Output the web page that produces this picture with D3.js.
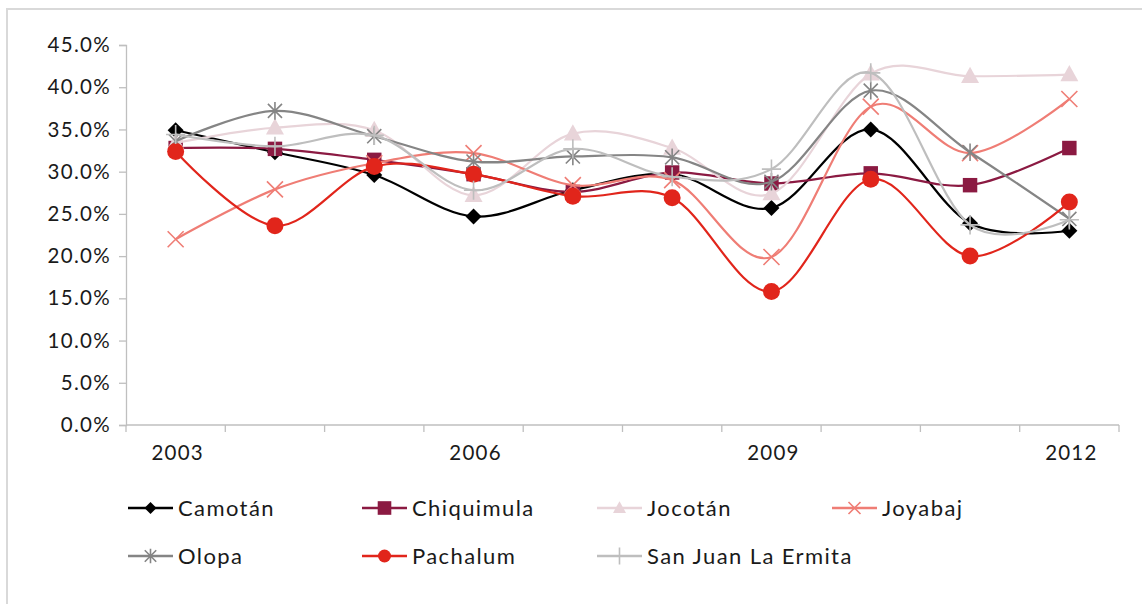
<!DOCTYPE html>
<html><head><meta charset="utf-8">
<script src="https://cdn.jsdelivr.net/npm/d3@7/dist/d3.min.js"></script>
<style>
html,body{margin:0;padding:0;background:#fff;}
svg{display:block;font-family:Lato,"Noto Sans",sans-serif;}
</style></head>
<body>
<svg id="chart" width="1142" height="604"></svg>
<script>
const years = ["2003","2004","2005","2006","2007","2008","2009","2010","2011","2012"];
const xTickLabels = ["2003","2006","2009","2012"];
const yTicks = [0,5,10,15,20,25,30,35,40,45];
const seriesNames = ["Camotán","Chiquimula","Jocotán","Joyabaj","Olopa","Pachalum","San Juan La Ermita"];
const camotan    = [34.9,32.3,29.6,24.7,27.8,29.7,25.7,35.0,23.9,23.0];
const chiquimula = [32.8,32.7,31.4,29.7,27.6,29.9,28.6,29.8,28.4,32.8];
const jocotan    = [33.4,35.2,34.9,27.2,34.5,32.8,27.4,41.6,41.3,41.5];
const joyabaj    = [22.0,27.9,31.0,32.2,28.4,29.0,19.9,37.7,32.2,38.6];
const olopa      = [33.6,37.2,34.2,31.2,31.8,31.7,28.8,39.6,32.3,24.4];
const pachalum   = [32.4,23.6,30.6,29.7,27.1,26.9,15.8,29.1,20.0,26.4];
const sanjuan    = [34.4,33.0,34.3,27.8,32.7,29.4,30.3,41.7,23.7,24.3];
const colors = ["#000000","#8B1A42","#E8D4D9","#EF7D75","#858585","#E1251B","#BEBEBE"];
const markers = ["diamond","square","triangle","x","star","circle","plus"];
const values = [camotan,chiquimula,jocotan,joyabaj,olopa,pachalum,sanjuan];

const svg = d3.select("#chart");
// outer frame
svg.append("rect").attr("x",7).attr("y",9).attr("width",1160).attr("height",620)
  .attr("fill","none").attr("stroke","#D9D9D9").attr("stroke-width",2);

const x = d3.scaleBand().domain(years).range([126,1119]);
const y = d3.scaleLinear().domain([0,45]).range([425,45]);
const axisColor = "#BFBFBF";
const textColor = "#1a1a1a";

// y axis
const ya = svg.append("g").attr("transform","translate(126,0)")
  .call(d3.axisLeft(y).tickValues(yTicks).tickSize(7).tickPadding(8).tickFormat(d=>d.toFixed(1)+"%"));
ya.select(".domain").attr("stroke",axisColor).attr("stroke-width",1.3);
ya.selectAll(".tick line").attr("stroke",axisColor).attr("stroke-width",1.3);
ya.selectAll("text").attr("font-size",20.5).attr("fill",textColor)
  .attr("font-family","Lato,sans-serif").attr("letter-spacing","1.3px");

// x axis
const xa = svg.append("g").attr("transform","translate(0,425)");
xa.append("line").attr("x1",126).attr("x2",1119).attr("y1",0).attr("y2",0)
  .attr("stroke",axisColor).attr("stroke-width",1.3);
const bounds = years.map(d=>x(d)).concat([x(years[years.length-1])+x.bandwidth()]);
xa.selectAll("line.tk").data(bounds).enter().append("line").attr("class","tk")
  .attr("x1",d=>d).attr("x2",d=>d).attr("y1",0).attr("y2",7)
  .attr("stroke",axisColor).attr("stroke-width",1.3);
xa.selectAll("text").data(xTickLabels).enter().append("text")
  .attr("x",d=>x(d)+x.bandwidth()/2+2).attr("y",35).attr("text-anchor","middle")
  .attr("font-size",20.5).attr("letter-spacing","1.2px").attr("fill",textColor).text(d=>d);

function drawMarker(g, type, color, s){
  if(type==="diamond"){
    g.append("path").attr("d",`M0,${-s}L${s},0L0,${s}L${-s},0Z`).attr("fill",color);
  } else if(type==="square"){
    g.append("rect").attr("x",-s*0.85).attr("y",-s*0.85).attr("width",s*1.7).attr("height",s*1.7).attr("fill",color);
  } else if(type==="triangle"){
    g.append("path").attr("d",`M0,${-s*1.05}L${s},${s*0.75}L${-s},${s*0.75}Z`).attr("fill",color);
  } else if(type==="circle"){
    g.append("circle").attr("r",s).attr("fill",color);
  } else if(type==="x"){
    g.append("path").attr("d",`M${-s},${-s}L${s},${s}M${-s},${s}L${s},${-s}`).attr("stroke",color).attr("stroke-width",1.6).attr("fill","none");
  } else if(type==="plus"){
    const t=s*1.2;
    g.append("path").attr("d",`M0,${-t}L0,${t}M${-t},0L${t},0`).attr("stroke",color).attr("stroke-width",1.6).attr("fill","none");
  } else if(type==="star"){
    const t=s*1.1;
    g.append("path").attr("d",`M${-t*0.8},${-t*0.8}L${t*0.8},${t*0.8}M${-t*0.8},${t*0.8}L${t*0.8},${-t*0.8}M0,${-t}L0,${t}`).attr("stroke",color).attr("stroke-width",1.6).attr("fill","none");
  }
}

const line = d3.line().x((d,i)=>x(years[i])+x.bandwidth()/2).y(d=>y(d)).curve(d3.curveCardinal.tension(0));
const chartMarkerSize = {diamond:8,square:8.5,triangle:9,circle:8.5,x:8,plus:8,star:8};

values.forEach((vals,si)=>{
  const g = svg.append("g");
  g.append("path").datum(vals).attr("d",line).attr("fill","none")
    .attr("stroke",colors[si]).attr("stroke-width",2.2);
  vals.forEach((v,i)=>{
    const mg = g.append("g").attr("transform",`translate(${x(years[i])+x.bandwidth()/2},${y(v)})`);
    drawMarker(mg, markers[si], colors[si], chartMarkerSize[markers[si]]);
  });
});

// legend
const legCols = [128,362,597,832];
const legRows = [508,556];
const legMarkerSize = {diamond:6,square:8,triangle:6.5,circle:6.5,x:6,plus:7,star:6.5};
seriesNames.forEach((name,i)=>{
  const lx = legCols[i%4], ly = legRows[Math.floor(i/4)];
  const g = svg.append("g").attr("transform",`translate(${lx},${ly})`);
  g.append("line").attr("x1",0).attr("x2",45).attr("y1",0).attr("y2",0)
    .attr("stroke",colors[i]).attr("stroke-width",2.4);
  const mg = g.append("g").attr("transform","translate(22.5,0)");
  drawMarker(mg, markers[i], colors[i], legMarkerSize[markers[i]]);
  g.append("text").attr("x",50).attr("y",0).attr("dy","0.35em")
    .attr("font-size",22).attr("letter-spacing","1.4px").attr("fill",textColor).text(name);
});
</script>
</body></html>
